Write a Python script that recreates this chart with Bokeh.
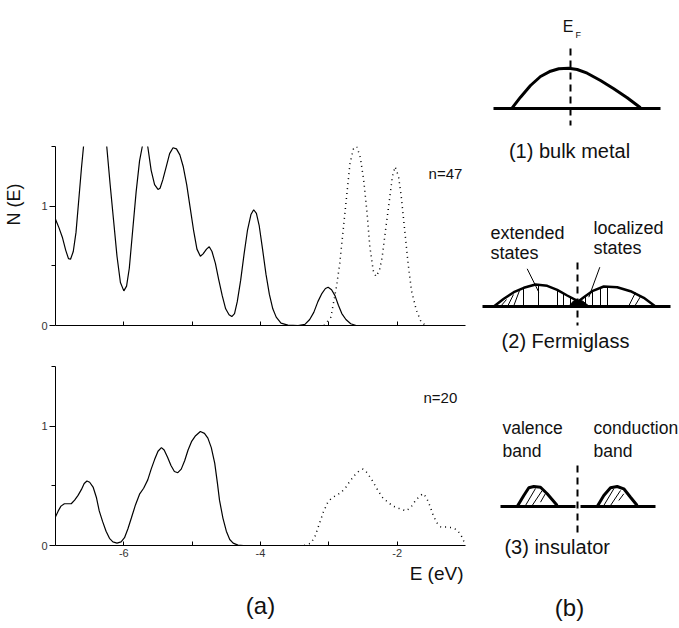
import math
from bokeh.plotting import figure
from bokeh.models import Range1d, FixedTicker, Label, Title
from bokeh.layouts import row, column
from bokeh.embed import file_html
from bokeh.resources import INLINE

FONT = "Liberation Sans"

# ---------------- (a) density of states, n = 47 ----------------
n47_val_E = [-7.00, -6.95, -6.90, -6.85, -6.81, -6.78, -6.74, -6.70, -6.66, -6.62, -6.59,
             -6.50, -6.42, -6.33, -6.25, -6.20, -6.15, -6.10, -6.05, -6.00, -5.96, -5.92,
             -5.87, -5.82, -5.77, -5.73, -5.69, -5.65, -5.60, -5.55, -5.50, -5.47, -5.43,
             -5.38, -5.33, -5.28, -5.23, -5.18, -5.13, -5.08, -5.03, -4.98, -4.93, -4.88,
             -4.84, -4.79, -4.75, -4.71, -4.66, -4.61, -4.56, -4.51, -4.46, -4.42, -4.38,
             -4.34, -4.29, -4.24, -4.19, -4.14, -4.10, -4.06, -4.02, -3.97, -3.92, -3.87,
             -3.82, -3.77, -3.70, -3.60, -3.45, -3.35, -3.28, -3.22, -3.16, -3.10, -3.05,
             -3.01, -2.96, -2.91, -2.86, -2.81, -2.75, -2.68, -2.60]
n47_val_N = [0.89, 0.82, 0.74, 0.63, 0.56, 0.555, 0.62, 0.78, 1.05, 1.32, 1.50,
             2.05, 2.20, 2.00, 1.50, 1.18, 0.88, 0.58, 0.36, 0.29, 0.33, 0.48,
             0.80, 1.12, 1.38, 1.50, 1.56, 1.50, 1.30, 1.18, 1.14, 1.15, 1.22,
             1.33, 1.44, 1.49, 1.48, 1.43, 1.33, 1.18, 0.99, 0.80, 0.64, 0.58,
             0.60, 0.64, 0.66, 0.62, 0.52, 0.38, 0.25, 0.14, 0.09, 0.075, 0.10,
             0.20, 0.38, 0.60, 0.80, 0.93, 0.97, 0.94, 0.84, 0.64, 0.43, 0.26,
             0.14, 0.07, 0.02, 0.003, 0.0, 0.01, 0.05, 0.11, 0.20, 0.27, 0.31,
             0.32, 0.30, 0.25, 0.17, 0.10, 0.05, 0.015, 0.0]
n47_con_E = [-3.07, -2.97, -2.89, -2.84, -2.79, -2.74, -2.69, -2.64, -2.59, -2.54, -2.49,
             -2.44, -2.40, -2.35, -2.31, -2.26, -2.22, -2.17, -2.12, -2.07, -2.03, -1.98,
             -1.94, -1.89, -1.84, -1.79, -1.72, -1.65, -1.58]
n47_con_N = [0.0, 0.07, 0.32, 0.52, 0.80, 1.08, 1.36, 1.48, 1.50, 1.41, 1.22,
             0.94, 0.66, 0.46, 0.41, 0.46, 0.57, 0.80, 1.02, 1.25, 1.33, 1.25,
             1.08, 0.80, 0.52, 0.29, 0.13, 0.03, 0.0]

# ---------------- (a) density of states, n = 20 ----------------
n20_val_E = [-7.00, -6.96, -6.92, -6.87, -6.82, -6.77, -6.72, -6.67, -6.62, -6.58, -6.54,
             -6.50, -6.45, -6.40, -6.36, -6.31, -6.26, -6.21, -6.16, -6.10, -6.04, -5.99,
             -5.94, -5.89, -5.83, -5.77, -5.71, -5.65, -5.60, -5.55, -5.50, -5.45, -5.41,
             -5.36, -5.31, -5.26, -5.21, -5.16, -5.11, -5.06, -5.01, -4.95, -4.88, -4.82,
             -4.77, -4.72, -4.67, -4.63, -4.60, -4.55, -4.50, -4.45, -4.40, -4.33, -4.25]
n20_val_N = [0.24, 0.29, 0.33, 0.35, 0.35, 0.35, 0.38, 0.42, 0.47, 0.52, 0.54,
             0.53, 0.49, 0.40, 0.29, 0.20, 0.12, 0.06, 0.03, 0.02, 0.03, 0.065,
             0.14, 0.23, 0.34, 0.43, 0.48, 0.55, 0.64, 0.72, 0.79, 0.82, 0.80,
             0.74, 0.67, 0.62, 0.61, 0.64, 0.71, 0.80, 0.87, 0.92, 0.955, 0.94,
             0.90, 0.82, 0.69, 0.52, 0.38, 0.23, 0.12, 0.05, 0.02, 0.003, 0.0]
n20_con_E = [-3.36, -3.26, -3.20, -3.14, -3.08, -3.01, -2.95, -2.89, -2.83, -2.76, -2.69,
             -2.62, -2.55, -2.50, -2.44, -2.36, -2.28, -2.21, -2.13, -2.06, -1.97, -1.87,
             -1.80, -1.74, -1.68, -1.62, -1.57, -1.52, -1.47, -1.42, -1.36, -1.28, -1.20,
             -1.12, -1.06, -1.02]
n20_con_N = [0.0, 0.02, 0.08, 0.18, 0.28, 0.37, 0.40, 0.42, 0.44, 0.48, 0.54,
             0.59, 0.63, 0.64, 0.61, 0.54, 0.46, 0.40, 0.36, 0.33, 0.31, 0.29,
             0.32, 0.37, 0.41, 0.435, 0.40, 0.33, 0.25, 0.19, 0.155, 0.155, 0.15,
             0.13, 0.08, 0.03]

x_major = [-6, -4, -2]
x_minor = [-5, -3]
x_labels = ["-6", "-4", "-2"]
y_major = [0, 1]
y_minor = [0.5, 1.5]

# ---------------- (b) schematic shapes (sketch units) ----------------
metal_base_x, metal_base_y = [493, 660], [108, 108]
metal_dome_x = [511.7, 520, 530, 540, 550, 558.3, 568.3, 576.7, 586.7, 600, 613.3, 626.7, 640]
metal_dome_y = [107.3, 96.7, 85, 76, 70.7, 68.3, 67.7, 69, 72.7, 80, 88.3, 97.3, 107.3]
metal_ef_x, metal_ef_y = [570, 570], [48, 125]

glass_base_x, glass_base_y = [482, 670], [306, 306]
glass_left_x = [493.3, 503.3, 513.3, 523.3, 535, 546.7, 556.7, 566.7, 575, 581.7, 586.7]
glass_left_y = [306, 298.3, 291.7, 287.3, 284, 285.3, 289.3, 295, 299.3, 303.3, 306]
glass_right_x = [570, 576.7, 583.3, 591.7, 603.3, 616.7, 630, 643.3, 655]
glass_right_y = [306, 301.7, 296.7, 290.7, 286, 286.7, 290.7, 297.3, 306]
glass_blob_x = [568, 573, 577, 582, 589]
glass_blob_y = [306, 300.5, 299.5, 300.5, 306]
glass_hatch_x0 = [523, 538, 557, 563, 570, 500, 507, 513, 585, 592, 600, 607, 628, 634]
glass_hatch_y0 = [306, 306, 306, 306, 306, 306, 306, 306, 306, 306, 306, 306, 306, 306]
glass_hatch_x1 = [523, 538, 557, 563, 570, 506, 513, 519, 585, 592, 600, 607, 635, 640]
glass_hatch_y1 = [288, 284.5, 289.5, 293, 297.5, 299, 294, 290, 296, 291, 287, 286, 292, 296]
glass_ptr_x0, glass_ptr_y0 = [526.7, 599.3], [268.3, 266.7]
glass_ptr_x1, glass_ptr_y1 = [538.3, 588.3], [291.7, 296.7]
glass_ef_x, glass_ef_y = [577, 577], [262, 325]

ins_base_l_x, ins_base_r_x, ins_base_y = [500, 575], [580, 655], [506, 506]
ins_val_x = [516.7, 523.3, 528.3, 533.3, 540, 546.7, 556.7]
ins_val_y = [506, 495, 487.3, 486, 486.7, 493.3, 505]
ins_con_x = [596.7, 603.3, 610, 616.7, 623.3, 630, 636.7]
ins_con_y = [506, 495, 487.3, 486, 488.3, 496.7, 505]
ins_hatch_x0 = [525, 531.7, 540, 603.3, 610, 618.3]
ins_hatch_y0 = [505, 505, 501.7, 505, 505, 500]
ins_hatch_x1 = [535, 541.7, 545, 613.3, 620, 623.3]
ins_hatch_y1 = [488, 490, 493, 488.3, 490, 493.3]
ins_ef_x, ins_ef_y = [577, 577], [465, 532]


def dos_panel(height, border_top, border_bottom, show_xlabels):
    p = figure(width=475, height=height, x_range=Range1d(-7, -1), y_range=Range1d(0, 1.5),
               output_backend="svg", toolbar_location=None,
               min_border_left=55, min_border_right=10,
               min_border_top=border_top, min_border_bottom=border_bottom)
    p.outline_line_color = None
    p.grid.visible = False
    p.background_fill_color = "white"
    p.border_fill_color = "white"
    for ax in (p.xaxis[0], p.yaxis[0]):
        ax.axis_line_color = "black"
        ax.axis_line_width = 1
        ax.major_tick_line_color = "black"
        ax.minor_tick_line_color = "black"
        ax.major_label_text_font = FONT
        ax.major_label_text_font_size = "11px"
        ax.major_label_text_color = "#333333"
    xa = p.xaxis[0]
    xa.ticker = FixedTicker(ticks=x_major, minor_ticks=x_minor)
    xa.major_tick_in = 4
    xa.major_tick_out = 0
    xa.minor_tick_in = 4
    xa.minor_tick_out = 0
    xa.major_label_standoff = 3
    if show_xlabels:
        xa.major_label_overrides = {t: s for t, s in zip(x_major, x_labels)}
    else:
        xa.major_label_overrides = {t: "" for t in x_major}
    ya = p.yaxis[0]
    ya.ticker = FixedTicker(ticks=y_major, minor_ticks=y_minor)
    ya.major_tick_in = 0
    ya.major_tick_out = 6
    ya.minor_tick_in = 0
    ya.minor_tick_out = 4
    ya.major_label_standoff = 2
    return p


def side_title(p, text, side, size, align, offset, standoff):
    t = Title(text=text, align=align, offset=offset, standoff=standoff,
              text_font=FONT, text_font_size=size, text_font_style="normal",
              text_color="#111111", vertical_align="middle")
    p.add_layout(t, side)


top = dos_panel(345, 146, 20, False)
top.line(n47_val_E, n47_val_N, line_color="black", line_width=1.2)
top.line(n47_con_E, n47_con_N, line_color="black", line_width=1.5, line_dash="1 4")
top.add_layout(Label(x=-1.54, y=1.27, text="n=47", text_font=FONT, text_font_size="15px",
                     text_align="left", text_baseline="middle", text_color="#111111"))
# blank spacer label on the y axis keeps the N (E) title clear of the tick labels
top.yaxis[0].axis_label = " "
top.yaxis[0].axis_label_text_font_size = "10px"
top.yaxis[0].axis_label_standoff = 0
side_title(top, "N (E)", "left", "18px", "right", 37, 0)

bot = dos_panel(283, 21, 83, True)
bot.line(n20_val_E, n20_val_N, line_color="black", line_width=1.2)
bot.line(n20_con_E, n20_con_N, line_color="black", line_width=1.5, line_dash="1 4")
bot.add_layout(Label(x=-1.615, y=1.24, text="n=20", text_font=FONT, text_font_size="15px",
                     text_align="left", text_baseline="middle", text_color="#111111"))
side_title(bot, "E (eV)", "below", "19px", "right", 2, 4)
side_title(bot, "(a)", "below", "24px", "center", 0, 8)

# ---------------- (b) schematic ----------------
sk = figure(width=204, height=628, x_range=Range1d(475, 679), y_range=Range1d(628, 0),
            output_backend="svg", toolbar_location=None,
            min_border_left=0, min_border_right=0, min_border_top=0, min_border_bottom=0)
sk.axis.visible = False
sk.grid.visible = False
sk.outline_line_color = None

# (1) bulk metal
sk.line(metal_base_x, metal_base_y, line_color="black", line_width=3)
sk.line(metal_dome_x, metal_dome_y, line_color="black", line_width=3)
sk.line(metal_ef_x, metal_ef_y, line_color="black", line_width=2, line_dash="7 5")

# (2) Fermiglass
sk.segment(glass_hatch_x0, glass_hatch_y0, glass_hatch_x1, glass_hatch_y1, line_color="black", line_width=1)
sk.patch(glass_blob_x, glass_blob_y, fill_color="black", line_color="black", line_width=1)
sk.line(glass_base_x, glass_base_y, line_color="black", line_width=3)
sk.line(glass_left_x, glass_left_y, line_color="black", line_width=2.5)
sk.line(glass_right_x, glass_right_y, line_color="black", line_width=2.5)
sk.segment(glass_ptr_x0, glass_ptr_y0, glass_ptr_x1, glass_ptr_y1, line_color="black", line_width=1)
sk.line(glass_ef_x, glass_ef_y, line_color="black", line_width=2, line_dash="7 5")

# (3) insulator
sk.segment(ins_hatch_x0, ins_hatch_y0, ins_hatch_x1, ins_hatch_y1, line_color="black", line_width=1)
sk.line(ins_base_l_x, ins_base_y, line_color="black", line_width=3)
sk.line(ins_base_r_x, ins_base_y, line_color="black", line_width=3)
sk.line(ins_val_x, ins_val_y, line_color="black", line_width=3)
sk.line(ins_con_x, ins_con_y, line_color="black", line_width=3)
sk.line(ins_ef_x, ins_ef_y, line_color="black", line_width=2, line_dash="7 5")


def sk_text(x, y, s, size, align="left"):
    sk.add_layout(Label(x=x, y=y, text=s, text_font=FONT, text_font_size=size,
                        text_align=align, text_baseline="middle", text_color="#111111"))


sk_text(567.5, 26, "E", "16px", "center")
sk_text(575, 34, "F", "9px", "left")
sk_text(569, 150, "(1) bulk metal", "20px", "center")
sk_text(490, 232, "extended", "18px")
sk_text(490, 252, "states", "18px")
sk_text(593, 227.5, "localized", "18px")
sk_text(593, 247.5, "states", "18px")
sk_text(565, 340, "(2) Fermiglass", "20px", "center")
sk_text(502, 427.5, "valence", "17.5px")
sk_text(502, 450, "band", "17.5px")
sk_text(593, 427.5, "conduction", "17.5px")
sk_text(593, 450, "band", "17.5px")
sk_text(556.7, 546, "(3) insulator", "20px", "center")
sk_text(569, 607, "(b)", "24px", "center")

layout = row(column(top, bot, spacing=0), sk, spacing=0)

with open("out.html", "w") as f:
    f.write(file_html(layout, INLINE))
